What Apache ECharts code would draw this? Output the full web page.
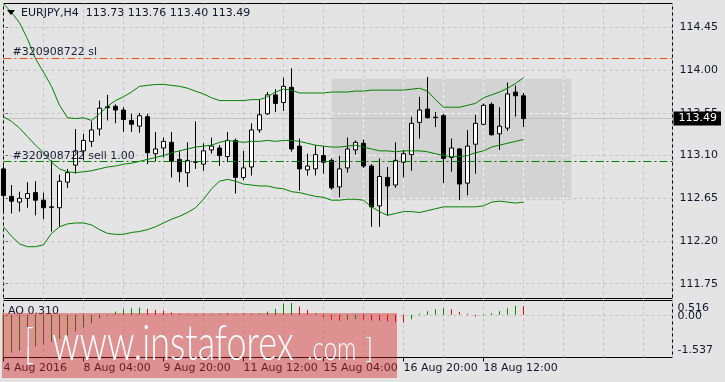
<!DOCTYPE html>
<html><head><meta charset="utf-8">
<script src="https://cdn.jsdelivr.net/npm/echarts@6/dist/echarts.min.js"></script>
<style>html,body{margin:0;padding:0;background:#e4e4e4;}#c{width:725px;height:382px;}</style>
</head><body><div id="c"></div>
<script>
const symbolName = 'EURJPY,H4';
const timeLabels = ['4 Aug 2016','8 Aug 04:00','9 Aug 20:00','11 Aug 12:00','15 Aug 04:00','16 Aug 20:00','18 Aug 12:00'];
const timeLabelIndex = [0,10,20,30,40,50,60];
const priceTicks = [111.75,112.20,112.65,113.10,113.55,114.00,114.45];
const aoTicks = [0.516,0,-1.537];

const opens = [112.96,112.67,112.61,112.65,112.71,112.63,112.555,112.55,112.82,113.00,
113.15,113.25,113.38,113.615,113.62,113.58,113.47,113.41,113.51,113.12,
113.18,113.24,113.06,112.92,113.035,113.01,113.16,113.18,113.09,113.26,
112.87,112.98,113.37,113.54,113.74,113.66,113.82,113.20,112.95,112.96,
113.10,113.05,112.77,112.97,113.16,113.23,112.99,112.57,112.87,112.79,
113.03,113.11,113.45,113.59,113.505,113.52,113.08,113.17,112.81,113.22,
113.43,113.64,113.33,113.39,113.77,113.73];
const closes = [112.68,112.62,112.65,112.70,112.63,112.55,112.56,112.83,112.92,113.15,
113.26,113.37,113.60,113.605,113.58,113.48,113.43,113.52,113.13,113.17,
113.25,113.04,112.93,113.05,113.03,113.15,113.20,113.10,113.26,112.87,
112.97,113.37,113.53,113.74,113.65,113.83,113.17,112.96,112.99,113.11,
113.03,112.76,112.96,113.17,113.24,112.99,112.56,112.88,112.78,113.05,
113.12,113.44,113.58,113.50,113.50,113.07,113.18,112.80,113.20,113.44,
113.63,113.32,113.41,113.75,113.73,113.49];
const lows = [112.49,112.49,112.51,112.55,112.47,112.43,112.30,112.35,112.76,112.91,
113.05,113.19,113.31,113.47,113.44,113.35,113.35,113.34,113.01,113.04,
113.08,112.87,112.82,112.77,112.96,112.94,113.12,112.99,113.03,112.70,
112.84,112.89,113.34,113.53,113.56,113.57,113.14,112.73,112.89,112.89,
112.91,112.74,112.66,112.92,113.11,112.97,112.35,112.35,112.47,112.76,
112.87,112.94,113.28,113.49,113.40,112.81,112.93,112.63,112.68,112.91,
113.42,113.31,113.16,113.36,113.51,113.40];
const highs = [112.99,112.79,112.72,112.82,112.83,112.71,113.05,112.90,112.96,113.38,
113.33,113.46,113.68,113.74,113.64,113.61,113.54,113.55,113.54,113.35,
113.29,113.35,113.15,113.24,113.46,113.23,113.29,113.21,113.35,113.28,
113.15,113.44,113.69,113.77,113.80,113.92,114.02,113.28,113.12,113.21,
113.20,113.07,113.10,113.29,113.26,113.27,113.01,113.07,112.98,113.24,
113.16,113.51,113.72,113.93,113.56,113.54,113.28,113.18,113.37,113.53,
113.65,113.66,113.61,113.87,113.84,113.76];

const bbUpper = [114.70,114.61,114.50,114.33,114.12,113.98,113.83,113.63,113.50,113.49,
113.50,113.47,113.54,113.62,113.68,113.72,113.77,113.83,113.84,113.85,
113.85,113.84,113.83,113.81,113.78,113.75,113.71,113.68,113.68,113.68,
113.68,113.69,113.69,113.72,113.77,113.80,113.79,113.76,113.76,113.76,
113.76,113.77,113.77,113.77,113.78,113.78,113.79,113.79,113.79,113.79,
113.79,113.80,113.81,113.78,113.69,113.61,113.61,113.61,113.63,113.65,
113.71,113.74,113.77,113.81,113.86,113.92];
const bbMiddle = [113.51,113.46,113.39,113.30,113.21,113.13,113.03,112.96,112.93,112.92,
112.93,112.94,112.96,112.98,112.99,113.01,113.02,113.04,113.06,113.08,
113.10,113.13,113.15,113.17,113.19,113.20,113.21,113.24,113.26,113.25,
113.24,113.25,113.25,113.26,113.25,113.26,113.26,113.25,113.23,113.21,
113.20,113.19,113.19,113.20,113.21,113.19,113.17,113.15,113.15,113.14,
113.15,113.15,113.15,113.14,113.12,113.10,113.09,113.09,113.10,113.13,
113.15,113.19,113.21,113.23,113.25,113.27];
const bbLower = [112.35,112.25,112.17,112.14,112.14,112.16,112.28,112.35,112.38,112.39,
112.39,112.37,112.32,112.28,112.27,112.27,112.29,112.30,112.32,112.35,
112.39,112.43,112.46,112.50,112.55,112.64,112.75,112.83,112.85,112.83,
112.80,112.79,112.78,112.78,112.76,112.75,112.72,112.71,112.69,112.67,
112.66,112.63,112.63,112.64,112.64,112.63,112.56,112.51,112.47,112.49,
112.51,112.51,112.50,112.52,112.54,112.56,112.56,112.56,112.56,112.56,
112.57,112.61,112.62,112.61,112.60,112.61];

const aoValues = [-1.537,-1.355,-1.283,-1.17,-1.14,-1.08,-0.98,-0.875,-0.755,-0.60,
-0.455,-0.30,-0.12,-0.036,0.12,0.20,0.24,0.264,0.216,0.18,
0.156,0.084,0.036,0.012,-0.01,-0.005,0.01,0.04,0.07,0.04,
0.01,0.02,0.05,0.12,0.216,0.396,0.43,0.30,0.18,0.06,
-0.084,-0.18,-0.216,-0.18,-0.156,-0.17,-0.204,-0.216,-0.24,-0.264,
-0.276,-0.156,0.02,0.13,0.20,0.24,0.20,0.10,0.005,-0.06,
-0.01,0.06,0.13,0.24,0.33,0.31];

const lastPrice = 113.49;
const slLevel = 114.13;
const sellLevel = 113.04;
const boxStart = 41, boxEnd = 71, boxHigh = 113.91, boxLow = 112.63;

const FONT = 'DejaVu Sans';
const TXT = '#14142e';
const GRID_COL = '#c3c3c3';
const GRID_DASH = [3, 3];
const ORDER_DASH = [8, 3, 2, 3];
const BB = '#008000';
const X_MAX = 83.625;
const Y_MIN = 111.594, Y_MAX = 114.703;

const chart = echarts.init(document.getElementById('c'), null, {renderer: 'canvas', width: 725, height: 382});
const candleData = opens.map((o, i) => [i, o, closes[i], lows[i], highs[i]]);
const toXY = arr => arr.map((v, i) => [i, v]);

const boxGrid = [];
for (let k = Math.ceil(boxStart / 5) * 5; k < boxEnd; k += 5) {
  if (k > boxStart) boxGrid.push([{coord: [k, boxLow]}, {coord: [k, boxHigh]}]);
}
priceTicks.filter(p => p > boxLow && p < boxHigh).forEach(p => boxGrid.push([{coord: [boxStart, p]}, {coord: [boxEnd, p]}]));

const last = opens.length - 1;
const title = symbolName + '  ' + [opens[last], highs[last], lows[last], closes[last]].map(v => v.toFixed(2)).join(' ');

const splitX = {show: true, lineStyle: {color: GRID_COL, type: GRID_DASH, width: 1}};
const graphics = [
  {type: 'polygon', z: 50, shape: {points: [[7, 10], [15, 10], [11, 15]]}, style: {fill: '#000'}},
  {type: 'text', z: 50, x: 21, y: 13, style: {text: title, fill: TXT, font: '11px "DejaVu Sans"', verticalAlign: 'middle'}},
  {type: 'text', z: 50, x: 8, y: 311, style: {text: 'AO ' + aoValues[last].toFixed(3), fill: TXT, font: '11px "DejaVu Sans"', verticalAlign: 'middle'}},
  {type: 'rect', z: 100, shape: {x: 2, y: 313, width: 395, height: 65}, style: {fill: 'rgba(215,30,30,0.42)'}},
  {type: 'text', z: 101, x: 52, y: 344, scaleY: 1.35, style: {text: 'www.instaforex', fill: '#ffffff', font: '300 36px Lato', verticalAlign: 'middle'}},
  {type: 'text', z: 101, x: 307, y: 350, scaleY: 1.35, style: {text: '.com', fill: '#ffffff', font: '300 24px Lato', verticalAlign: 'middle'}},
  {type: 'text', z: 101, x: 24, y: 346, scaleY: 1.2, style: {text: '[', fill: '#ffffff', font: '300 34px Lato', verticalAlign: 'middle'}},
  {type: 'text', z: 101, x: 365, y: 349, scaleY: 1.0, style: {text: ']', fill: '#ffffff', font: '300 28px Lato', verticalAlign: 'middle'}}
];
const option = {
  animation: false,
  backgroundColor: '#e4e4e4',
  textStyle: {fontFamily: FONT},
  grid: [
    {left: 3.5, top: 3.5, width: 669, height: 295, show: true, borderColor: '#000', borderWidth: 1, backgroundColor: 'transparent'},
    {left: 3.5, top: 300.5, width: 669, height: 57, show: true, borderColor: '#000', borderWidth: 1, backgroundColor: 'transparent'}
  ],
  xAxis: [
    {type: 'value', gridIndex: 0, min: 0, max: X_MAX, interval: 5, axisLine: {show: false}, axisTick: {show: false}, axisLabel: {show: false}, splitLine: splitX},
    {type: 'value', gridIndex: 1, position: 'top', min: 0, max: X_MAX, interval: 5, axisLine: {show: false}, axisTick: {show: false}, axisLabel: {show: false}, splitLine: splitX},
    {type: 'value', gridIndex: 1, position: 'bottom', min: 0, max: X_MAX, interval: 10,
      axisLine: {show: false},
      axisTick: {show: true, customValues: timeLabelIndex, length: 4, lineStyle: {color: '#000'}},
      axisLabel: {customValues: timeLabelIndex, showMinLabel: true, formatter: v => { const j = timeLabelIndex.indexOf(Math.round(v)); return j >= 0 ? timeLabels[j] : ''; }, align: 'left', margin: 5, color: TXT, fontSize: 11, fontFamily: FONT},
      splitLine: {show: false}}
  ],
  yAxis: [
    {type: 'value', gridIndex: 0, position: 'right', min: Y_MIN, max: Y_MAX,
      axisLine: {show: false},
      axisTick: {show: true, customValues: priceTicks, length: 4, lineStyle: {color: '#000'}},
      axisLabel: {customValues: priceTicks, formatter: v => v.toFixed(2), margin: 7, color: TXT, fontSize: 11, fontFamily: FONT},
      splitLine: {show: false}},
    {type: 'value', gridIndex: 1, position: 'right', min: aoTicks[2], max: aoTicks[0],
      axisLine: {show: false},
      axisTick: {show: true, customValues: [0], length: 4, lineStyle: {color: '#000'}},
      axisLabel: {customValues: aoTicks.slice(1), showMinLabel: true, margin: 5, color: TXT, fontSize: 11, fontFamily: FONT,
        formatter: v => Math.abs(v) < 1e-6 ? '{z|0.00}' : '{b|' + aoTicks[2].toFixed(3) + '}',
        rich: {
          z: {padding: [2, 0, 0, 0], fontSize: 11, fontFamily: FONT, color: TXT},
          b: {padding: [0, 0, 15, 0], fontSize: 11, fontFamily: FONT, color: TXT}
        }},
      splitLine: {show: false}}
  ],
  series: [
    {type: 'candlestick', xAxisIndex: 0, yAxisIndex: 0, data: candleData, encode: {x: 0, y: [1, 2, 3, 4]},
      barWidth: 4, z: 2, silent: true,
      itemStyle: {color: '#ffffff', color0: '#000000', borderColor: '#000000', borderColor0: '#000000', borderWidth: 1},
      markArea: {silent: true, z: 1, itemStyle: {color: '#d3d3d3'}, data: [[{coord: [boxStart, boxHigh]}, {coord: [boxEnd, boxLow]}]]}},
    {type: 'line', name: 'upper', xAxisIndex: 0, yAxisIndex: 0, data: toXY(bbUpper), symbol: 'none', z: 3, silent: true,
      lineStyle: {color: BB, width: 1},
      markLine: {silent: true, symbol: ['none', 'none'], z: 0.5, label: {show: false},
        lineStyle: {color: GRID_COL, type: GRID_DASH, width: 1}, data: priceTicks.map(p => ({yAxis: p}))}},
    {type: 'line', name: 'middle', xAxisIndex: 0, yAxisIndex: 0, data: toXY(bbMiddle), symbol: 'none', z: 3, silent: true,
      lineStyle: {color: BB, width: 1},
      markLine: {silent: true, symbol: ['none', 'none'], z: 1.6,
        data: [{yAxis: lastPrice, lineStyle: {color: '#c0c0c0', type: 'solid', width: 1},
          label: {show: true, position: 'end', distance: [1, 0], formatter: lastPrice.toFixed(2), color: '#ffffff', backgroundColor: '#000000', padding: [2, 4, 1, 5], fontSize: 11, fontFamily: FONT}}]}},
    {type: 'line', name: 'lower', xAxisIndex: 0, yAxisIndex: 0, data: toXY(bbLower), symbol: 'none', z: 3, silent: true,
      lineStyle: {color: BB, width: 1},
      markLine: {silent: true, symbol: ['none', 'none'], z: 5,
        data: [
          {yAxis: slLevel, lineStyle: {color: '#e8501e', type: ORDER_DASH, width: 1},
            label: {show: true, position: 'insideStartTop', distance: [9, 0], formatter: '#320908722 sl', color: '#1e1e3a', fontSize: 11, fontFamily: FONT}},
          {yAxis: sellLevel, lineStyle: {color: '#008000', type: ORDER_DASH, width: 1},
            label: {show: true, position: 'insideStartTop', distance: [9, 0], formatter: '#320908722 sell 1.00', color: '#1e1e3a', fontSize: 11, fontFamily: FONT}}
        ]}},
    {type: 'line', name: 'boxgrid', xAxisIndex: 0, yAxisIndex: 0, data: [], symbol: 'none', silent: true,
      markLine: {silent: true, symbol: ['none', 'none'], z: 1.3, label: {show: false},
        lineStyle: {color: '#f4f4f4', type: GRID_DASH, width: 1}, data: boxGrid}},
    {type: 'bar', xAxisIndex: 1, yAxisIndex: 1, data: toXY(aoValues), barWidth: 1, barMinHeight: 1, z: 2, silent: true,
      itemStyle: {color: p => (p.dataIndex === 0 || aoValues[p.dataIndex] >= aoValues[p.dataIndex - 1]) ? '#008c00' : '#ff0000'},
      markLine: {silent: true, symbol: ['none', 'none'], z: 0.5, label: {show: false},
        lineStyle: {color: GRID_COL, type: GRID_DASH, width: 1}, data: [{yAxis: 0}]}}
  ],
  graphic: graphics
};
chart.setOption(option);
// max label of the AO scale, placed just inside the top edge as the terminal does
const topPx = chart.convertToPixel({yAxisIndex: 1}, aoTicks[0]);
const rightPx = chart.convertToPixel({xAxisIndex: 2}, X_MAX);
graphics.push({type: 'text', z: 50, x: rightPx + 5, y: topPx + 8, style: {text: aoTicks[0].toFixed(3), fill: TXT, font: '11px "DejaVu Sans"', verticalAlign: 'middle'}});
chart.setOption({graphic: graphics});
</script>
</body></html>
